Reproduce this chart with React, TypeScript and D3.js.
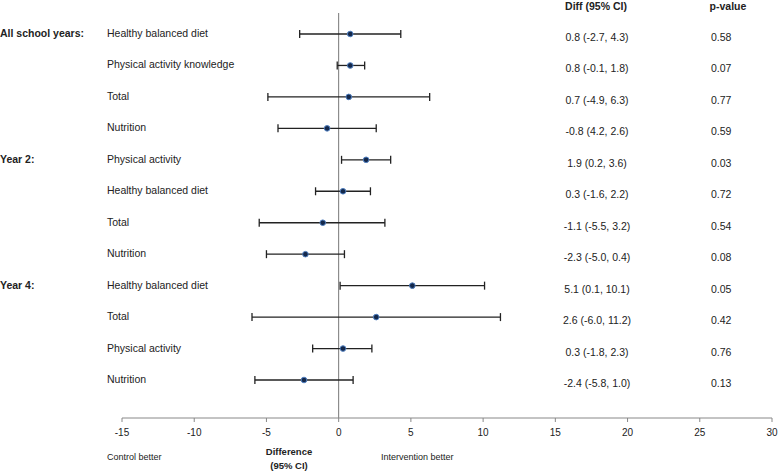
import React from 'react';
import * as d3 from 'd3';

// rows top to bottom
const groups = ['All school years:', '', '', '', 'Year 2:', '', '', '', 'Year 4:', '', '', ''];
const outcomes = [
    'Healthy balanced diet', 'Physical activity knowledge', 'Total', 'Nutrition',
    'Physical activity', 'Healthy balanced diet', 'Total', 'Nutrition',
    'Healthy balanced diet', 'Total', 'Physical activity', 'Nutrition',
];
const diffs = [0.8, 0.8, 0.7, -0.8, 1.9, 0.3, -1.1, -2.3, 5.1, 2.6, 0.3, -2.4];
const lows  = [-2.7, -0.1, -4.9, -4.2, 0.2, -1.6, -5.5, -5.0, 0.1, -6.0, -1.8, -5.8];
const highs = [4.3, 1.8, 6.3, 2.6, 3.6, 2.2, 3.2, 0.4, 10.1, 11.2, 2.3, 1.0];
const diffLabels = [
    '0.8 (-2.7, 4.3)', '0.8 (-0.1, 1.8)', '0.7 (-4.9, 6.3)', '-0.8 (4.2, 2.6)',
    '1.9 (0.2, 3.6)', '0.3 (-1.6, 2.2)', '-1.1 (-5.5, 3.2)', '-2.3 (-5.0, 0.4)',
    '5.1 (0.1, 10.1)', '2.6 (-6.0, 11.2)', '0.3 (-1.8, 2.3)', '-2.4 (-5.8, 1.0)',
];
const pValues = ['0.58', '0.07', '0.77', '0.59', '0.03', '0.72', '0.54', '0.08', '0.05', '0.42', '0.76', '0.13'];
const xTicks = [-15, -10, -5, 0, 5, 10, 15, 20, 25, 30];

const W = 778, H = 472;
const FONT = '"Liberation Sans", Arial, sans-serif';
const INK = '#222';

const App = () => {
    const x = d3.scaleLinear().domain([-15, 30]).range([122, 772]);
    const y = d3.scalePoint<number>().domain(d3.range(outcomes.length)).range([34, 380]);
    const axisY = 418;
    const cap = 4;

    return (
        <svg width={W} height={H} style={{ position: 'absolute', left: 0, top: 0, background: '#fff' }}
             fontFamily={FONT}>
            {/* headers */}
            <text x={596} y={10} fontSize={10.5} fontWeight={700} textAnchor="middle" fill={INK}>Diff (95% CI)</text>
            <text x={728} y={10} fontSize={10.5} fontWeight={700} textAnchor="middle" fill={INK}>p-value</text>

            {/* zero reference line */}
            <line x1={x(0)} x2={x(0)} y1={13} y2={axisY} stroke="#777" strokeWidth={1} />

            {outcomes.map((o, i) => {
                const yy = y(i)!;
                return (
                    <g key={i}>
                        {groups[i] && (
                            <text x={0} y={yy + 3} fontSize={10.5} fontWeight={700} fill={INK}>{groups[i]}</text>
                        )}
                        <text x={107} y={yy + 3} fontSize={10.5} fill={INK}>{o}</text>
                        <line x1={x(lows[i])} x2={x(highs[i])} y1={yy} y2={yy} stroke={INK} strokeWidth={1.3} />
                        <line x1={x(lows[i])} x2={x(lows[i])} y1={yy - cap} y2={yy + cap} stroke={INK} strokeWidth={1.3} />
                        <line x1={x(highs[i])} x2={x(highs[i])} y1={yy - cap} y2={yy + cap} stroke={INK} strokeWidth={1.3} />
                        <circle cx={x(diffs[i])} cy={yy} r={2.8} fill="#14284b" stroke="#4f7fc0" strokeWidth={1} />
                        <text x={597} y={yy + 7} fontSize={10.5} textAnchor="middle" fill={INK}>{diffLabels[i]}</text>
                        <text x={711} y={yy + 7} fontSize={10.5} fill={INK}>{pValues[i]}</text>
                    </g>
                );
            })}

            {/* x axis */}
            <line x1={x(-15)} x2={x(30)} y1={axisY} y2={axisY} stroke="#888" strokeWidth={1} />
            {xTicks.map(t => (
                <g key={t}>
                    <line x1={x(t)} x2={x(t)} y1={axisY} y2={axisY + 4} stroke="#888" strokeWidth={1} />
                    <text x={x(t)} y={axisY + 18} fontSize={10} textAnchor="middle" fill={INK}>{t}</text>
                </g>
            ))}

            <text x={107} y={460} fontSize={9} fill={INK}>Control better</text>
            <text x={289} y={455} fontSize={9.5} fontWeight={700} textAnchor="middle" fill={INK}>Difference</text>
            <text x={289} y={469} fontSize={9.5} fontWeight={700} textAnchor="middle" fill={INK}>(95% CI)</text>
            <text x={381} y={460} fontSize={9} fill={INK}>Intervention better</text>
        </svg>
    );
};

export default App;
